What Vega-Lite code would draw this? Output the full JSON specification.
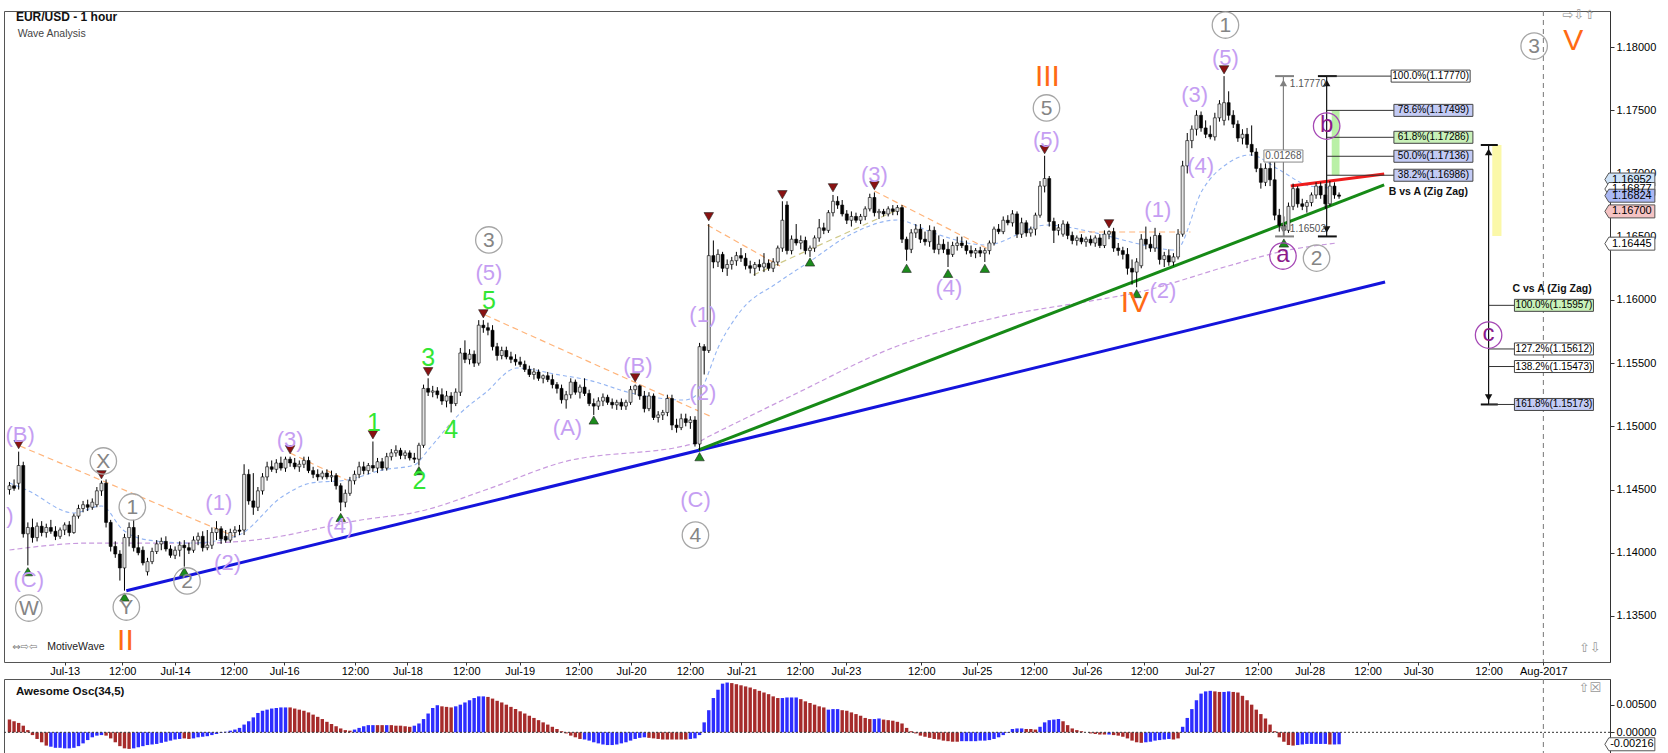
{
"$schema":"https://vega.github.io/schema/vega-lite/v6.json",
"padding":{"left":3,"top":8,"right":2,"bottom":0},
"background":"white",
"spacing":1,
"config":{"view":{"stroke":"#555","strokeWidth":1},"text":{"font":"Liberation Sans"},"axis":{"labelFont":"Liberation Sans"}},
"datasets":{
"bars":[
{"i":-12,"o":1.1450,"h":1.1456,"l":1.1446,"c":1.1453,"a":0.0023,"d":"d"},
{"i":-11,"o":1.1453,"h":1.1458,"l":1.1449,"c":1.1451,"a":0.0020,"d":"d"},
{"i":-10,"o":1.1455,"h":1.1480,"l":1.1450,"c":1.1469,"a":0.0017,"d":"d"},
{"i":-9,"o":1.1469,"h":1.1472,"l":1.1412,"c":1.1415,"a":0.0012,"d":"d"},
{"i":-8,"o":1.1415,"h":1.1424,"l":1.1390,"c":1.1420,"a":0.0004,"d":"d"},
{"i":-7,"o":1.1420,"h":1.1427,"l":1.1408,"c":1.1412,"a":-0.0005,"d":"d"},
{"i":-6,"o":1.1412,"h":1.1424,"l":1.1409,"c":1.1421,"a":-0.0012,"d":"d"},
{"i":-5,"o":1.1421,"h":1.1425,"l":1.1413,"c":1.1416,"a":-0.0018,"d":"d"},
{"i":-4,"o":1.1416,"h":1.1423,"l":1.1412,"c":1.1420,"a":-0.0024,"d":"d"},
{"i":-3,"o":1.1420,"h":1.1426,"l":1.1415,"c":1.1417,"a":-0.0026,"d":"u"},
{"i":-2,"o":1.1417,"h":1.1421,"l":1.1410,"c":1.1413,"a":-0.0028,"d":"u"},
{"i":-1,"o":1.1413,"h":1.1420,"l":1.1411,"c":1.1418,"a":-0.0028,"d":"u"},
{"i":0,"o":1.1418,"h":1.1424,"l":1.1414,"c":1.1422,"a":-0.0029,"d":"u"},
{"i":1,"o":1.1422,"h":1.1425,"l":1.1413,"c":1.1416,"a":-0.0029,"d":"u"},
{"i":2,"o":1.1416,"h":1.1431,"l":1.1415,"c":1.1429,"a":-0.0028,"d":"u"},
{"i":3,"o":1.1429,"h":1.1438,"l":1.1427,"c":1.1435,"a":-0.0025,"d":"u"},
{"i":4,"o":1.1435,"h":1.1441,"l":1.1432,"c":1.1438,"a":-0.0020,"d":"u"},
{"i":5,"o":1.1438,"h":1.1442,"l":1.1433,"c":1.1436,"a":-0.0014,"d":"u"},
{"i":6,"o":1.1436,"h":1.1443,"l":1.1434,"c":1.1440,"a":-0.0009,"d":"u"},
{"i":7,"o":1.1438,"h":1.1452,"l":1.1436,"c":1.1449,"a":-0.0006,"d":"u"},
{"i":8,"o":1.1449,"h":1.1457,"l":1.1445,"c":1.1455,"a":-0.0005,"d":"u"},
{"i":9,"o":1.1455,"h":1.1458,"l":1.1420,"c":1.1424,"a":-0.0006,"d":"d"},
{"i":10,"o":1.1424,"h":1.1426,"l":1.1401,"c":1.1405,"a":-0.0011,"d":"d"},
{"i":11,"o":1.1405,"h":1.1409,"l":1.1396,"c":1.1399,"a":-0.0018,"d":"d"},
{"i":12,"o":1.1399,"h":1.1402,"l":1.1378,"c":1.1388,"a":-0.0025,"d":"d"},
{"i":13,"o":1.1388,"h":1.1415,"l":1.1370,"c":1.1412,"a":-0.0029,"d":"d"},
{"i":14,"o":1.1412,"h":1.1424,"l":1.1405,"c":1.1420,"a":-0.0030,"d":"d"},
{"i":15,"o":1.1420,"h":1.1426,"l":1.1401,"c":1.1404,"a":-0.0029,"d":"u"},
{"i":16,"o":1.1404,"h":1.1414,"l":1.1398,"c":1.1400,"a":-0.0027,"d":"u"},
{"i":17,"o":1.1402,"h":1.1405,"l":1.1390,"c":1.1392,"a":-0.0025,"d":"u"},
{"i":18,"o":1.1385,"h":1.1396,"l":1.1382,"c":1.1393,"a":-0.0023,"d":"u"},
{"i":19,"o":1.1393,"h":1.1404,"l":1.1391,"c":1.1401,"a":-0.0022,"d":"u"},
{"i":20,"o":1.1401,"h":1.1410,"l":1.1399,"c":1.1407,"a":-0.0021,"d":"u"},
{"i":21,"o":1.1407,"h":1.1412,"l":1.1402,"c":1.1409,"a":-0.0019,"d":"u"},
{"i":22,"o":1.1409,"h":1.1413,"l":1.1401,"c":1.1403,"a":-0.0017,"d":"u"},
{"i":23,"o":1.1403,"h":1.1406,"l":1.1396,"c":1.1398,"a":-0.0015,"d":"u"},
{"i":24,"o":1.1398,"h":1.1405,"l":1.1395,"c":1.1402,"a":-0.0013,"d":"u"},
{"i":25,"o":1.1402,"h":1.1409,"l":1.1397,"c":1.1406,"a":-0.0012,"d":"u"},
{"i":26,"o":1.1406,"h":1.1410,"l":1.1389,"c":1.1404,"a":-0.0011,"d":"d"},
{"i":27,"o":1.1404,"h":1.1408,"l":1.1399,"c":1.1402,"a":-0.0012,"d":"d"},
{"i":28,"o":1.1402,"h":1.1413,"l":1.1400,"c":1.1410,"a":-0.0011,"d":"u"},
{"i":29,"o":1.1410,"h":1.1416,"l":1.1406,"c":1.1413,"a":-0.0009,"d":"u"},
{"i":30,"o":1.1413,"h":1.1417,"l":1.1401,"c":1.1404,"a":-0.0008,"d":"u"},
{"i":31,"o":1.1404,"h":1.1418,"l":1.1402,"c":1.1406,"a":-0.0007,"d":"u"},
{"i":32,"o":1.1406,"h":1.1420,"l":1.1403,"c":1.1416,"a":-0.0005,"d":"u"},
{"i":33,"o":1.1416,"h":1.1425,"l":1.1410,"c":1.1419,"a":-0.0003,"d":"u"},
{"i":34,"o":1.1419,"h":1.1421,"l":1.1407,"c":1.1411,"a":-0.0001,"d":"u"},
{"i":35,"o":1.1413,"h":1.1418,"l":1.1408,"c":1.1410,"a":0.0001,"d":"u"},
{"i":36,"o":1.1410,"h":1.1419,"l":1.1408,"c":1.1416,"a":0.0003,"d":"u"},
{"i":37,"o":1.1416,"h":1.1421,"l":1.1412,"c":1.1418,"a":0.0005,"d":"u"},
{"i":38,"o":1.1418,"h":1.1422,"l":1.1414,"c":1.1417,"a":0.0008,"d":"u"},
{"i":39,"o":1.1418,"h":1.1470,"l":1.1414,"c":1.1462,"a":0.0014,"d":"u"},
{"i":40,"o":1.1462,"h":1.1466,"l":1.1438,"c":1.1441,"a":0.0020,"d":"u"},
{"i":41,"o":1.1441,"h":1.1463,"l":1.1430,"c":1.1436,"a":0.0027,"d":"u"},
{"i":42,"o":1.1436,"h":1.1452,"l":1.1433,"c":1.1449,"a":0.0035,"d":"u"},
{"i":43,"o":1.1449,"h":1.1463,"l":1.1446,"c":1.1460,"a":0.0039,"d":"u"},
{"i":44,"o":1.1460,"h":1.1472,"l":1.1457,"c":1.1468,"a":0.0041,"d":"u"},
{"i":45,"o":1.1468,"h":1.1473,"l":1.1464,"c":1.1466,"a":0.0043,"d":"u"},
{"i":46,"o":1.1466,"h":1.1474,"l":1.1463,"c":1.1471,"a":0.0044,"d":"u"},
{"i":47,"o":1.1471,"h":1.1476,"l":1.1465,"c":1.1467,"a":0.0045,"d":"u"},
{"i":48,"o":1.1467,"h":1.1476,"l":1.1464,"c":1.1474,"a":0.0045,"d":"u"},
{"i":49,"o":1.1474,"h":1.1476,"l":1.1468,"c":1.1471,"a":0.0045,"d":"d"},
{"i":50,"o":1.1471,"h":1.1475,"l":1.1466,"c":1.1468,"a":0.0043,"d":"d"},
{"i":51,"o":1.1468,"h":1.1473,"l":1.1464,"c":1.1470,"a":0.0041,"d":"d"},
{"i":52,"o":1.1470,"h":1.1476,"l":1.1467,"c":1.1473,"a":0.0039,"d":"d"},
{"i":53,"o":1.1473,"h":1.1476,"l":1.1463,"c":1.1465,"a":0.0036,"d":"d"},
{"i":54,"o":1.1465,"h":1.1468,"l":1.1459,"c":1.1462,"a":0.0032,"d":"d"},
{"i":55,"o":1.1462,"h":1.1466,"l":1.1457,"c":1.1460,"a":0.0028,"d":"d"},
{"i":56,"o":1.1460,"h":1.1465,"l":1.1458,"c":1.1463,"a":0.0024,"d":"d"},
{"i":57,"o":1.1463,"h":1.1466,"l":1.1458,"c":1.1460,"a":0.0019,"d":"d"},
{"i":58,"o":1.1460,"h":1.1465,"l":1.1456,"c":1.1461,"a":0.0015,"d":"d"},
{"i":59,"o":1.1461,"h":1.1463,"l":1.1450,"c":1.1453,"a":0.0011,"d":"d"},
{"i":60,"o":1.1453,"h":1.1455,"l":1.1433,"c":1.1440,"a":0.0007,"d":"d"},
{"i":61,"o":1.1440,"h":1.1450,"l":1.1436,"c":1.1447,"a":0.0004,"d":"d"},
{"i":62,"o":1.1447,"h":1.1460,"l":1.1445,"c":1.1457,"a":0.0003,"d":"d"},
{"i":63,"o":1.1457,"h":1.1465,"l":1.1454,"c":1.1462,"a":0.0005,"d":"u"},
{"i":64,"o":1.1462,"h":1.1472,"l":1.1459,"c":1.1468,"a":0.0008,"d":"u"},
{"i":65,"o":1.1468,"h":1.1472,"l":1.1462,"c":1.1465,"a":0.0011,"d":"u"},
{"i":66,"o":1.1465,"h":1.1471,"l":1.1462,"c":1.1469,"a":0.0013,"d":"u"},
{"i":67,"o":1.1469,"h":1.1488,"l":1.1464,"c":1.1467,"a":0.0013,"d":"u"},
{"i":68,"o":1.1467,"h":1.1475,"l":1.1463,"c":1.1472,"a":0.0013,"d":"d"},
{"i":69,"o":1.1472,"h":1.1475,"l":1.1465,"c":1.1467,"a":0.0013,"d":"d"},
{"i":70,"o":1.1467,"h":1.1479,"l":1.1465,"c":1.1476,"a":0.0013,"d":"u"},
{"i":71,"o":1.1476,"h":1.1482,"l":1.1473,"c":1.1479,"a":0.0013,"d":"d"},
{"i":72,"o":1.1479,"h":1.1485,"l":1.1476,"c":1.1481,"a":0.0012,"d":"d"},
{"i":73,"o":1.1481,"h":1.1483,"l":1.1474,"c":1.1477,"a":0.0012,"d":"d"},
{"i":74,"o":1.1477,"h":1.1481,"l":1.1474,"c":1.1479,"a":0.0011,"d":"d"},
{"i":75,"o":1.1479,"h":1.1481,"l":1.1473,"c":1.1475,"a":0.0010,"d":"d"},
{"i":76,"o":1.1475,"h":1.1479,"l":1.1471,"c":1.1474,"a":0.0012,"d":"u"},
{"i":77,"o":1.1474,"h":1.1487,"l":1.1469,"c":1.1485,"a":0.0016,"d":"u"},
{"i":78,"o":1.1485,"h":1.1533,"l":1.1483,"c":1.1530,"a":0.0024,"d":"u"},
{"i":79,"o":1.1530,"h":1.1538,"l":1.1524,"c":1.1527,"a":0.0034,"d":"u"},
{"i":80,"o":1.1527,"h":1.1532,"l":1.1523,"c":1.1528,"a":0.0044,"d":"u"},
{"i":81,"o":1.1528,"h":1.1531,"l":1.1522,"c":1.1525,"a":0.0049,"d":"u"},
{"i":82,"o":1.1525,"h":1.1530,"l":1.1517,"c":1.1520,"a":0.0047,"d":"d"},
{"i":83,"o":1.1520,"h":1.1528,"l":1.1515,"c":1.1524,"a":0.0046,"d":"d"},
{"i":84,"o":1.1524,"h":1.1527,"l":1.1511,"c":1.1518,"a":0.0045,"d":"d"},
{"i":85,"o":1.1518,"h":1.1530,"l":1.1516,"c":1.1527,"a":0.0047,"d":"u"},
{"i":86,"o":1.1527,"h":1.1562,"l":1.1524,"c":1.1558,"a":0.0050,"d":"u"},
{"i":87,"o":1.1558,"h":1.1568,"l":1.1550,"c":1.1553,"a":0.0054,"d":"u"},
{"i":88,"o":1.1553,"h":1.1561,"l":1.1549,"c":1.1557,"a":0.0058,"d":"u"},
{"i":89,"o":1.1557,"h":1.1560,"l":1.1547,"c":1.1550,"a":0.0062,"d":"u"},
{"i":90,"o":1.1550,"h":1.1584,"l":1.1548,"c":1.1580,"a":0.0065,"d":"u"},
{"i":91,"o":1.1580,"h":1.1584,"l":1.1574,"c":1.1578,"a":0.0065,"d":"u"},
{"i":92,"o":1.1578,"h":1.1582,"l":1.1572,"c":1.1576,"a":0.0064,"d":"d"},
{"i":93,"o":1.1576,"h":1.1580,"l":1.1560,"c":1.1563,"a":0.0061,"d":"d"},
{"i":94,"o":1.1563,"h":1.1566,"l":1.1552,"c":1.1556,"a":0.0057,"d":"d"},
{"i":95,"o":1.1556,"h":1.1563,"l":1.1553,"c":1.1560,"a":0.0054,"d":"d"},
{"i":96,"o":1.1560,"h":1.1563,"l":1.1553,"c":1.1555,"a":0.0050,"d":"d"},
{"i":97,"o":1.1555,"h":1.1559,"l":1.1550,"c":1.1553,"a":0.0046,"d":"d"},
{"i":98,"o":1.1553,"h":1.1557,"l":1.1548,"c":1.1551,"a":0.0042,"d":"d"},
{"i":99,"o":1.1551,"h":1.1555,"l":1.1547,"c":1.1549,"a":0.0038,"d":"d"},
{"i":100,"o":1.1549,"h":1.1552,"l":1.1543,"c":1.1545,"a":0.0034,"d":"d"},
{"i":101,"o":1.1545,"h":1.1548,"l":1.1539,"c":1.1541,"a":0.0030,"d":"d"},
{"i":102,"o":1.1541,"h":1.1546,"l":1.1537,"c":1.1543,"a":0.0026,"d":"d"},
{"i":103,"o":1.1543,"h":1.1545,"l":1.1536,"c":1.1538,"a":0.0022,"d":"d"},
{"i":104,"o":1.1538,"h":1.1541,"l":1.1534,"c":1.1540,"a":0.0018,"d":"d"},
{"i":105,"o":1.1540,"h":1.1543,"l":1.1535,"c":1.1537,"a":0.0014,"d":"d"},
{"i":106,"o":1.1537,"h":1.1541,"l":1.1530,"c":1.1533,"a":0.0010,"d":"d"},
{"i":107,"o":1.1533,"h":1.1535,"l":1.1526,"c":1.1530,"a":0.0006,"d":"d"},
{"i":108,"o":1.1530,"h":1.1533,"l":1.1518,"c":1.1521,"a":0.0002,"d":"d"},
{"i":109,"o":1.1521,"h":1.1528,"l":1.1514,"c":1.1525,"a":-0.0002,"d":"d"},
{"i":110,"o":1.1525,"h":1.1538,"l":1.1522,"c":1.1535,"a":-0.0006,"d":"d"},
{"i":111,"o":1.1535,"h":1.1537,"l":1.1525,"c":1.1527,"a":-0.0009,"d":"d"},
{"i":112,"o":1.1527,"h":1.1533,"l":1.1522,"c":1.1531,"a":-0.0012,"d":"d"},
{"i":113,"o":1.1531,"h":1.1538,"l":1.1524,"c":1.1526,"a":-0.0013,"d":"u"},
{"i":114,"o":1.1526,"h":1.1529,"l":1.1516,"c":1.1518,"a":-0.0015,"d":"u"},
{"i":115,"o":1.1518,"h":1.1522,"l":1.1509,"c":1.1516,"a":-0.0018,"d":"u"},
{"i":116,"o":1.1516,"h":1.1523,"l":1.1513,"c":1.1520,"a":-0.0020,"d":"u"},
{"i":117,"o":1.1520,"h":1.1526,"l":1.1516,"c":1.1523,"a":-0.0022,"d":"u"},
{"i":118,"o":1.1523,"h":1.1525,"l":1.1517,"c":1.1519,"a":-0.0023,"d":"u"},
{"i":119,"o":1.1519,"h":1.1522,"l":1.1514,"c":1.1517,"a":-0.0023,"d":"u"},
{"i":120,"o":1.1517,"h":1.1521,"l":1.1513,"c":1.1519,"a":-0.0022,"d":"u"},
{"i":121,"o":1.1519,"h":1.1522,"l":1.1513,"c":1.1516,"a":-0.0020,"d":"u"},
{"i":122,"o":1.1516,"h":1.1521,"l":1.1513,"c":1.1519,"a":-0.0018,"d":"u"},
{"i":123,"o":1.1519,"h":1.1532,"l":1.1517,"c":1.1529,"a":-0.0015,"d":"u"},
{"i":124,"o":1.1529,"h":1.1533,"l":1.1525,"c":1.1532,"a":-0.0012,"d":"u"},
{"i":125,"o":1.1532,"h":1.1533,"l":1.1521,"c":1.1524,"a":-0.0010,"d":"u"},
{"i":126,"o":1.1524,"h":1.1528,"l":1.1511,"c":1.1514,"a":-0.0009,"d":"u"},
{"i":127,"o":1.1514,"h":1.1527,"l":1.1512,"c":1.1524,"a":-0.0010,"d":"d"},
{"i":128,"o":1.1524,"h":1.1526,"l":1.1505,"c":1.1507,"a":-0.0011,"d":"d"},
{"i":129,"o":1.1507,"h":1.1512,"l":1.1503,"c":1.1509,"a":-0.0012,"d":"d"},
{"i":130,"o":1.1509,"h":1.1513,"l":1.1505,"c":1.1511,"a":-0.0013,"d":"d"},
{"i":131,"o":1.1511,"h":1.1525,"l":1.1508,"c":1.1522,"a":-0.0013,"d":"d"},
{"i":132,"o":1.1522,"h":1.1525,"l":1.1497,"c":1.1501,"a":-0.0013,"d":"d"},
{"i":133,"o":1.1501,"h":1.1506,"l":1.1495,"c":1.1499,"a":-0.0013,"d":"d"},
{"i":134,"o":1.1499,"h":1.1510,"l":1.1497,"c":1.1506,"a":-0.0013,"d":"d"},
{"i":135,"o":1.1506,"h":1.1510,"l":1.1500,"c":1.1503,"a":-0.0013,"d":"d"},
{"i":136,"o":1.1503,"h":1.1508,"l":1.1498,"c":1.1505,"a":-0.0012,"d":"u"},
{"i":137,"o":1.1505,"h":1.1508,"l":1.1484,"c":1.1486,"a":-0.0011,"d":"u"},
{"i":138,"o":1.1486,"h":1.1566,"l":1.1481,"c":1.1563,"a":-0.0005,"d":"u"},
{"i":139,"o":1.1563,"h":1.1565,"l":1.1541,"c":1.1560,"a":0.0018,"d":"u"},
{"i":140,"o":1.1560,"h":1.1660,"l":1.1558,"c":1.1635,"a":0.0040,"d":"u"},
{"i":141,"o":1.1635,"h":1.1647,"l":1.1625,"c":1.1630,"a":0.0062,"d":"u"},
{"i":142,"o":1.1630,"h":1.1640,"l":1.1626,"c":1.1636,"a":0.0077,"d":"u"},
{"i":143,"o":1.1636,"h":1.1638,"l":1.1622,"c":1.1625,"a":0.0088,"d":"u"},
{"i":144,"o":1.1625,"h":1.1632,"l":1.1619,"c":1.1628,"a":0.0090,"d":"u"},
{"i":145,"o":1.1628,"h":1.1634,"l":1.1624,"c":1.1631,"a":0.0089,"d":"d"},
{"i":146,"o":1.1631,"h":1.1638,"l":1.1627,"c":1.1635,"a":0.0087,"d":"d"},
{"i":147,"o":1.1635,"h":1.1641,"l":1.1630,"c":1.1633,"a":0.0085,"d":"d"},
{"i":148,"o":1.1633,"h":1.1637,"l":1.1624,"c":1.1627,"a":0.0083,"d":"d"},
{"i":149,"o":1.1627,"h":1.1631,"l":1.1621,"c":1.1625,"a":0.0081,"d":"d"},
{"i":150,"o":1.1625,"h":1.1630,"l":1.1619,"c":1.1628,"a":0.0078,"d":"d"},
{"i":151,"o":1.1628,"h":1.1632,"l":1.1623,"c":1.1626,"a":0.0075,"d":"d"},
{"i":152,"o":1.1626,"h":1.1637,"l":1.1622,"c":1.1629,"a":0.0072,"d":"d"},
{"i":153,"o":1.1629,"h":1.1632,"l":1.1623,"c":1.1625,"a":0.0069,"d":"d"},
{"i":154,"o":1.1625,"h":1.1633,"l":1.1622,"c":1.1630,"a":0.0065,"d":"d"},
{"i":155,"o":1.1630,"h":1.1643,"l":1.1627,"c":1.1641,"a":0.0062,"d":"d"},
{"i":156,"o":1.1641,"h":1.1678,"l":1.1638,"c":1.1663,"a":0.0062,"d":"u"},
{"i":157,"o":1.1675,"h":1.1678,"l":1.1636,"c":1.1639,"a":0.0063,"d":"u"},
{"i":158,"o":1.1639,"h":1.1651,"l":1.1636,"c":1.1648,"a":0.0063,"d":"u"},
{"i":159,"o":1.1648,"h":1.1660,"l":1.1643,"c":1.1645,"a":0.0063,"d":"u"},
{"i":160,"o":1.1645,"h":1.1651,"l":1.1640,"c":1.1647,"a":0.0060,"d":"d"},
{"i":161,"o":1.1647,"h":1.1650,"l":1.1636,"c":1.1639,"a":0.0056,"d":"d"},
{"i":162,"o":1.1639,"h":1.1643,"l":1.1634,"c":1.1641,"a":0.0053,"d":"d"},
{"i":163,"o":1.1641,"h":1.1651,"l":1.1638,"c":1.1649,"a":0.0050,"d":"d"},
{"i":164,"o":1.1649,"h":1.1664,"l":1.1646,"c":1.1657,"a":0.0047,"d":"d"},
{"i":165,"o":1.1657,"h":1.1661,"l":1.1652,"c":1.1655,"a":0.0045,"d":"d"},
{"i":166,"o":1.1655,"h":1.1671,"l":1.1653,"c":1.1669,"a":0.0041,"d":"u"},
{"i":167,"o":1.1669,"h":1.1683,"l":1.1666,"c":1.1678,"a":0.0042,"d":"u"},
{"i":168,"o":1.1678,"h":1.1682,"l":1.1672,"c":1.1675,"a":0.0042,"d":"u"},
{"i":169,"o":1.1675,"h":1.1679,"l":1.1666,"c":1.1668,"a":0.0040,"d":"d"},
{"i":170,"o":1.1668,"h":1.1671,"l":1.1660,"c":1.1663,"a":0.0039,"d":"d"},
{"i":171,"o":1.1663,"h":1.1670,"l":1.1658,"c":1.1666,"a":0.0036,"d":"d"},
{"i":172,"o":1.1666,"h":1.1669,"l":1.1661,"c":1.1663,"a":0.0033,"d":"d"},
{"i":173,"o":1.1663,"h":1.1668,"l":1.1660,"c":1.1666,"a":0.0030,"d":"d"},
{"i":174,"o":1.1666,"h":1.1674,"l":1.1663,"c":1.1672,"a":0.0026,"d":"d"},
{"i":175,"o":1.1672,"h":1.1684,"l":1.1670,"c":1.1681,"a":0.0024,"d":"d"},
{"i":176,"o":1.1681,"h":1.1685,"l":1.1666,"c":1.1669,"a":0.0024,"d":"u"},
{"i":177,"o":1.1669,"h":1.1672,"l":1.1664,"c":1.1670,"a":0.0025,"d":"u"},
{"i":178,"o":1.1670,"h":1.1672,"l":1.1666,"c":1.1668,"a":0.0023,"d":"d"},
{"i":179,"o":1.1668,"h":1.1674,"l":1.1666,"c":1.1672,"a":0.0022,"d":"d"},
{"i":180,"o":1.1672,"h":1.1675,"l":1.1667,"c":1.1670,"a":0.0021,"d":"d"},
{"i":181,"o":1.1670,"h":1.1675,"l":1.1667,"c":1.1673,"a":0.0019,"d":"d"},
{"i":182,"o":1.1673,"h":1.1675,"l":1.1645,"c":1.1648,"a":0.0016,"d":"d"},
{"i":183,"o":1.1648,"h":1.1650,"l":1.1631,"c":1.1640,"a":0.0008,"d":"d"},
{"i":184,"o":1.1640,"h":1.1656,"l":1.1637,"c":1.1653,"a":0.0002,"d":"d"},
{"i":185,"o":1.1653,"h":1.1660,"l":1.1649,"c":1.1656,"a":-0.0002,"d":"d"},
{"i":186,"o":1.1656,"h":1.1660,"l":1.1645,"c":1.1648,"a":-0.0006,"d":"d"},
{"i":187,"o":1.1648,"h":1.1654,"l":1.1643,"c":1.1646,"a":-0.0008,"d":"d"},
{"i":188,"o":1.1646,"h":1.1659,"l":1.1642,"c":1.1655,"a":-0.0010,"d":"d"},
{"i":189,"o":1.1655,"h":1.1658,"l":1.1637,"c":1.1640,"a":-0.0012,"d":"d"},
{"i":190,"o":1.1640,"h":1.1651,"l":1.1636,"c":1.1644,"a":-0.0013,"d":"d"},
{"i":191,"o":1.1644,"h":1.1648,"l":1.1637,"c":1.1640,"a":-0.0015,"d":"d"},
{"i":192,"o":1.1640,"h":1.1646,"l":1.1626,"c":1.1636,"a":-0.0016,"d":"d"},
{"i":193,"o":1.1636,"h":1.1646,"l":1.1634,"c":1.1643,"a":-0.0017,"d":"d"},
{"i":194,"o":1.1643,"h":1.1650,"l":1.1639,"c":1.1645,"a":-0.0017,"d":"d"},
{"i":195,"o":1.1645,"h":1.1650,"l":1.1641,"c":1.1643,"a":-0.0016,"d":"u"},
{"i":196,"o":1.1643,"h":1.1647,"l":1.1636,"c":1.1639,"a":-0.0016,"d":"u"},
{"i":197,"o":1.1639,"h":1.1643,"l":1.1634,"c":1.1637,"a":-0.0016,"d":"u"},
{"i":198,"o":1.1637,"h":1.1641,"l":1.1633,"c":1.1639,"a":-0.0016,"d":"u"},
{"i":199,"o":1.1639,"h":1.1642,"l":1.1634,"c":1.1637,"a":-0.0015,"d":"u"},
{"i":200,"o":1.1637,"h":1.1641,"l":1.1630,"c":1.1639,"a":-0.0015,"d":"u"},
{"i":201,"o":1.1639,"h":1.1647,"l":1.1636,"c":1.1645,"a":-0.0014,"d":"u"},
{"i":202,"o":1.1645,"h":1.1658,"l":1.1643,"c":1.1656,"a":-0.0012,"d":"u"},
{"i":203,"o":1.1656,"h":1.1660,"l":1.1652,"c":1.1654,"a":-0.0009,"d":"u"},
{"i":204,"o":1.1654,"h":1.1666,"l":1.1652,"c":1.1663,"a":-0.0005,"d":"u"},
{"i":205,"o":1.1663,"h":1.1667,"l":1.1659,"c":1.1661,"a":-0.0001,"d":"u"},
{"i":206,"o":1.1661,"h":1.1671,"l":1.1658,"c":1.1668,"a":0.0006,"d":"u"},
{"i":207,"o":1.1668,"h":1.1670,"l":1.1649,"c":1.1652,"a":0.0007,"d":"u"},
{"i":208,"o":1.1652,"h":1.1665,"l":1.1649,"c":1.1661,"a":0.0007,"d":"u"},
{"i":209,"o":1.1661,"h":1.1663,"l":1.1650,"c":1.1653,"a":0.0006,"d":"d"},
{"i":210,"o":1.1653,"h":1.1658,"l":1.1650,"c":1.1656,"a":0.0006,"d":"d"},
{"i":211,"o":1.1656,"h":1.1669,"l":1.1651,"c":1.1667,"a":0.0005,"d":"d"},
{"i":212,"o":1.1667,"h":1.1694,"l":1.1665,"c":1.1690,"a":0.0010,"d":"u"},
{"i":213,"o":1.1690,"h":1.1714,"l":1.1685,"c":1.1696,"a":0.0018,"d":"u"},
{"i":214,"o":1.1696,"h":1.1698,"l":1.1658,"c":1.1662,"a":0.0022,"d":"u"},
{"i":215,"o":1.1662,"h":1.1665,"l":1.1645,"c":1.1655,"a":0.0023,"d":"u"},
{"i":216,"o":1.1655,"h":1.1660,"l":1.1651,"c":1.1657,"a":0.0024,"d":"u"},
{"i":217,"o":1.1652,"h":1.1663,"l":1.1650,"c":1.1660,"a":0.0020,"d":"d"},
{"i":218,"o":1.1660,"h":1.1662,"l":1.1648,"c":1.1651,"a":0.0013,"d":"d"},
{"i":219,"o":1.1651,"h":1.1654,"l":1.1644,"c":1.1647,"a":0.0007,"d":"d"},
{"i":220,"o":1.1647,"h":1.1651,"l":1.1643,"c":1.1649,"a":0.0004,"d":"d"},
{"i":221,"o":1.1649,"h":1.1652,"l":1.1644,"c":1.1646,"a":0.0002,"d":"d"},
{"i":222,"o":1.1646,"h":1.1650,"l":1.1642,"c":1.1648,"a":0.0000,"d":"d"},
{"i":223,"o":1.1648,"h":1.1651,"l":1.1643,"c":1.1645,"a":-0.0002,"d":"d"},
{"i":224,"o":1.1645,"h":1.1651,"l":1.1642,"c":1.1649,"a":-0.0003,"d":"d"},
{"i":225,"o":1.1649,"h":1.1652,"l":1.1641,"c":1.1643,"a":-0.0004,"d":"d"},
{"i":226,"o":1.1643,"h":1.1655,"l":1.1641,"c":1.1652,"a":-0.0004,"d":"d"},
{"i":227,"o":1.1652,"h":1.1655,"l":1.1648,"c":1.1654,"a":-0.0004,"d":"u"},
{"i":228,"o":1.1654,"h":1.1657,"l":1.1638,"c":1.1641,"a":-0.0005,"d":"d"},
{"i":229,"o":1.1641,"h":1.1645,"l":1.1635,"c":1.1639,"a":-0.0006,"d":"d"},
{"i":230,"o":1.1639,"h":1.1642,"l":1.1632,"c":1.1636,"a":-0.0008,"d":"d"},
{"i":231,"o":1.1636,"h":1.1641,"l":1.1620,"c":1.1625,"a":-0.0011,"d":"d"},
{"i":232,"o":1.1625,"h":1.1632,"l":1.1612,"c":1.1622,"a":-0.0015,"d":"d"},
{"i":233,"o":1.1622,"h":1.1633,"l":1.1610,"c":1.1630,"a":-0.0018,"d":"d"},
{"i":234,"o":1.1627,"h":1.1652,"l":1.1625,"c":1.1648,"a":-0.0019,"d":"d"},
{"i":235,"o":1.1648,"h":1.1658,"l":1.1640,"c":1.1644,"a":-0.0018,"d":"u"},
{"i":236,"o":1.1644,"h":1.1650,"l":1.1638,"c":1.1641,"a":-0.0017,"d":"u"},
{"i":237,"o":1.1641,"h":1.1657,"l":1.1638,"c":1.1651,"a":-0.0015,"d":"u"},
{"i":238,"o":1.1651,"h":1.1653,"l":1.1628,"c":1.1632,"a":-0.0014,"d":"u"},
{"i":239,"o":1.1632,"h":1.1638,"l":1.1626,"c":1.1635,"a":-0.0013,"d":"u"},
{"i":240,"o":1.1635,"h":1.1640,"l":1.1627,"c":1.1630,"a":-0.0012,"d":"u"},
{"i":241,"o":1.1630,"h":1.1637,"l":1.1627,"c":1.1634,"a":-0.0013,"d":"d"},
{"i":242,"o":1.1634,"h":1.1656,"l":1.1632,"c":1.1652,"a":-0.0011,"d":"d"},
{"i":243,"o":1.1652,"h":1.1710,"l":1.1650,"c":1.1706,"a":0.0010,"d":"u"},
{"i":244,"o":1.1706,"h":1.1732,"l":1.1700,"c":1.1726,"a":0.0026,"d":"u"},
{"i":245,"o":1.1726,"h":1.1738,"l":1.1720,"c":1.1735,"a":0.0042,"d":"u"},
{"i":246,"o":1.1735,"h":1.1750,"l":1.1730,"c":1.1746,"a":0.0058,"d":"u"},
{"i":247,"o":1.1746,"h":1.1749,"l":1.1733,"c":1.1736,"a":0.0070,"d":"u"},
{"i":248,"o":1.1736,"h":1.1742,"l":1.1728,"c":1.1731,"a":0.0074,"d":"u"},
{"i":249,"o":1.1731,"h":1.1738,"l":1.1727,"c":1.1729,"a":0.0075,"d":"u"},
{"i":250,"o":1.1729,"h":1.1748,"l":1.1726,"c":1.1744,"a":0.0074,"d":"d"},
{"i":251,"o":1.1744,"h":1.1758,"l":1.1741,"c":1.1755,"a":0.0073,"d":"d"},
{"i":252,"o":1.1742,"h":1.1777,"l":1.1738,"c":1.1756,"a":0.0073,"d":"u"},
{"i":253,"o":1.1756,"h":1.1765,"l":1.1742,"c":1.1746,"a":0.0074,"d":"u"},
{"i":254,"o":1.1746,"h":1.1750,"l":1.1736,"c":1.1739,"a":0.0073,"d":"d"},
{"i":255,"o":1.1739,"h":1.1742,"l":1.1725,"c":1.1728,"a":0.0072,"d":"d"},
{"i":256,"o":1.1728,"h":1.1735,"l":1.1723,"c":1.1731,"a":0.0066,"d":"d"},
{"i":257,"o":1.1731,"h":1.1736,"l":1.1720,"c":1.1723,"a":0.0058,"d":"d"},
{"i":258,"o":1.1723,"h":1.1738,"l":1.1714,"c":1.1717,"a":0.0050,"d":"d"},
{"i":259,"o":1.1717,"h":1.1720,"l":1.1701,"c":1.1704,"a":0.0041,"d":"d"},
{"i":260,"o":1.1704,"h":1.1708,"l":1.1688,"c":1.1693,"a":0.0033,"d":"d"},
{"i":261,"o":1.1693,"h":1.1708,"l":1.1690,"c":1.1704,"a":0.0025,"d":"d"},
{"i":262,"o":1.1704,"h":1.1710,"l":1.1690,"c":1.1695,"a":0.0014,"d":"d"},
{"i":263,"o":1.1695,"h":1.1709,"l":1.1663,"c":1.1667,"a":0.0002,"d":"d"},
{"i":264,"o":1.1667,"h":1.1672,"l":1.1654,"c":1.1659,"a":-0.0009,"d":"d"},
{"i":265,"o":1.1659,"h":1.1666,"l":1.1650,"c":1.1655,"a":-0.0017,"d":"d"},
{"i":266,"o":1.1655,"h":1.1677,"l":1.1653,"c":1.1674,"a":-0.0023,"d":"d"},
{"i":267,"o":1.1674,"h":1.1692,"l":1.1671,"c":1.1688,"a":-0.0024,"d":"d"},
{"i":268,"o":1.1688,"h":1.1690,"l":1.1673,"c":1.1676,"a":-0.0023,"d":"u"},
{"i":269,"o":1.1676,"h":1.1680,"l":1.1671,"c":1.1674,"a":-0.0022,"d":"u"},
{"i":270,"o":1.1674,"h":1.1679,"l":1.1669,"c":1.1677,"a":-0.0021,"d":"u"},
{"i":271,"o":1.1677,"h":1.1685,"l":1.1674,"c":1.1683,"a":-0.0021,"d":"u"},
{"i":272,"o":1.1683,"h":1.1693,"l":1.1680,"c":1.1690,"a":-0.0021,"d":"u"},
{"i":273,"o":1.1690,"h":1.1693,"l":1.1680,"c":1.1683,"a":-0.0021,"d":"u"},
{"i":274,"o":1.1683,"h":1.1692,"l":1.1672,"c":1.1676,"a":-0.0021,"d":"u"},
{"i":275,"o":1.1676,"h":1.1694,"l":1.1674,"c":1.1690,"a":-0.0022,"d":"d"},
{"i":276,"o":1.1690,"h":1.1693,"l":1.1680,"c":1.1683,"a":-0.0022,"d":"u"},
{"i":277,"o":1.1683,"h":1.1685,"l":1.1680,"c":1.1682,"a":-0.00216,"d":"u"}
],
"ma1":[{"i":-12,"p":1.14552},{"i":-8.2,"p":1.14496},{"i":1.9,"p":1.14315},{"i":8,"p":1.1437},{"i":12.7,"p":1.1418},{"i":18.1,"p":1.14101},{"i":27.4,"p":1.14077},{"i":37.4,"p":1.14133},{"i":47.5,"p":1.14449},{"i":53.6,"p":1.14552},{"i":61.3,"p":1.14575},{"i":69.1,"p":1.14655},{"i":76,"p":1.14694},{"i":79,"p":1.14813},{"i":86,"p":1.15105},{"i":91.4,"p":1.15264},{"i":98.3,"p":1.15461},{"i":107.6,"p":1.15406},{"i":113.8,"p":1.15366},{"i":123.1,"p":1.15264},{"i":134.8,"p":1.15208},{"i":137.8,"p":1.15264},{"i":142.5,"p":1.15659},{"i":147.1,"p":1.1592},{"i":154.9,"p":1.16134},{"i":162.4,"p":1.16315},{"i":170.2,"p":1.16505},{"i":181,"p":1.16632},{"i":188.8,"p":1.16529},{"i":200.2,"p":1.16434},{"i":213.4,"p":1.16592},{"i":224.2,"p":1.16529},{"i":232.6,"p":1.1645},{"i":241.5,"p":1.16394},{"i":247.3,"p":1.16869},{"i":252.9,"p":1.17083},{"i":257.7,"p":1.17146},{"i":264.1,"p":1.17027},{"i":270.6,"p":1.16901},{"i":275.6,"p":1.16885}],
"ma2":[{"i":-12,"p":1.14022},{"i":5.8,"p":1.14077},{"i":30.5,"p":1.14077},{"i":41.3,"p":1.14101},{"i":64.4,"p":1.14259},{"i":77.5,"p":1.1433},{"i":91.4,"p":1.14496},{"i":107.6,"p":1.1471},{"i":137.1,"p":1.14868},{"i":140.2,"p":1.14924},{"i":157.9,"p":1.1524},{"i":181,"p":1.15635},{"i":204.1,"p":1.15873},{"i":224.2,"p":1.15999},{"i":232.6,"p":1.16054},{"i":252.9,"p":1.16268},{"i":265,"p":1.16387},{"i":276.5,"p":1.1645}],
"tr":[{"g":"s1","i":-9.7,"p":1.14844},{"g":"s1","i":36.7,"p":1.14133},{"g":"s2","i":49,"p":1.14789},{"g":"s2","i":61.3,"p":1.14575},{"g":"s3","i":91.4,"p":1.1588},{"g":"s3","i":140.2,"p":1.15082},{"g":"s4","i":139.7,"p":1.16592},{"g":"s4","i":155.5,"p":1.16268},{"g":"s5","i":149.7,"p":1.16197},{"g":"s5","i":181.9,"p":1.16727},{"g":"s6","i":176,"p":1.16861},{"g":"s6","i":201.1,"p":1.16395},{"g":"s7","i":220.5,"p":1.16537},{"g":"s7","i":244.7,"p":1.16537}],
"tl":[{"g":"b","i":13.4,"p":1.13699},{"g":"b","i":287,"p":1.16142},{"g":"g","i":137.8,"p":1.14814},{"g":"g","i":286.8,"p":1.16909},{"g":"r","i":266.5,"p":1.16901},{"g":"r","i":286.8,"p":1.16996}],
"tri":[{"i":-10,"p":1.14855,"t":"d"},{"i":8,"p":1.14617,"t":"d"},{"i":49,"p":1.14815,"t":"d"},{"i":67,"p":1.14933,"t":"d"},{"i":79,"p":1.15432,"t":"d"},{"i":91,"p":1.1589,"t":"d"},{"i":124,"p":1.15384,"t":"d"},{"i":140,"p":1.16658,"t":"d"},{"i":156,"p":1.16832,"t":"d"},{"i":167,"p":1.16887,"t":"d"},{"i":176,"p":1.16903,"t":"d"},{"i":213,"p":1.17188,"t":"d"},{"i":227,"p":1.16602,"t":"d"},{"i":252,"p":1.1782,"t":"d"},
{"i":-8,"p":1.1385,"t":"u"},{"i":13,"p":1.1365,"t":"u"},{"i":26,"p":1.1385,"t":"u"},{"i":60,"p":1.1428,"t":"u"},{"i":77,"p":1.1465,"t":"u"},{"i":115,"p":1.1505,"t":"u"},{"i":138,"p":1.1476,"t":"u"},{"i":162,"p":1.163,"t":"u"},{"i":183,"p":1.1625,"t":"u"},{"i":192,"p":1.1621,"t":"u"},{"i":200,"p":1.1625,"t":"u"},{"i":233,"p":1.1605,"t":"u"},{"i":265,"p":1.1645,"t":"u"}],
"lb":[
{"i":-9.7,"p":1.14931,"t":"(B)","k":"l"},{"i":-11.9,"p":1.14291,"t":")","k":"l"},{"i":-7.8,"p":1.13784,"t":"(C)","k":"l"},{"i":33.5,"p":1.14393,"t":"(1)","k":"l"},{"i":35.4,"p":1.13919,"t":"(2)","k":"l"},{"i":49,"p":1.14892,"t":"(3)","k":"l"},{"i":59.8,"p":1.14212,"t":"(4)","k":"l"},{"i":92.2,"p":1.16213,"t":"(5)","k":"l"},{"i":109.3,"p":1.14987,"t":"(A)","k":"l"},{"i":124.6,"p":1.15477,"t":"(B)","k":"l"},{"i":138.7,"p":1.1588,"t":"(1)","k":"l"},{"i":138.7,"p":1.15263,"t":"(2)","k":"l"},{"i":137.1,"p":1.14417,"t":"(C)","k":"l"},{"i":176,"p":1.16988,"t":"(3)","k":"l"},{"i":192.2,"p":1.16094,"t":"(4)","k":"l"},{"i":213.4,"p":1.17264,"t":"(5)","k":"l"},{"i":237.6,"p":1.16711,"t":"(1)","k":"l"},{"i":238.7,"p":1.1607,"t":"(2)","k":"l"},{"i":245.6,"p":1.1762,"t":"(3)","k":"l"},{"i":246.9,"p":1.17059,"t":"(4)","k":"l"},{"i":252.3,"p":1.17913,"t":"(5)","k":"l"},
{"i":-7.8,"p":1.13563,"t":"W","k":"g"},{"i":8.4,"p":1.14726,"t":"X","k":"g"},{"i":14.7,"p":1.14362,"t":"1","k":"g"},{"i":13.4,"p":1.13571,"t":"Y","k":"g"},{"i":26.6,"p":1.13777,"t":"2","k":"g"},{"i":92.2,"p":1.16474,"t":"3","k":"g"},{"i":137.1,"p":1.1414,"t":"4","k":"g"},{"i":213.4,"p":1.17518,"t":"5","k":"g"},{"i":252.3,"p":1.18174,"t":"1","k":"g"},{"i":272.1,"p":1.16331,"t":"2","k":"g"},{"i":319.4,"p":1.18008,"t":"3","k":"g"},
{"i":264.8,"p":1.16347,"t":"a","k":"p"},{"i":274.3,"p":1.17375,"t":"b","k":"p"},{"i":309.5,"p":1.15722,"t":"c","k":"p"},
{"i":67.2,"p":1.15026,"t":"1","k":"n"},{"i":77.1,"p":1.14567,"t":"2","k":"n"},{"i":79,"p":1.1554,"t":"3","k":"n"},{"i":84,"p":1.14971,"t":"4","k":"n"},{"i":92.2,"p":1.15991,"t":"5","k":"n"},
{"i":13.2,"p":1.13302,"t":"II","k":"o"},{"i":213.6,"p":1.17763,"t":"III","k":"o"},{"i":232.6,"p":1.15975,"t":"IV","k":"o"},{"i":327.9,"p":1.18047,"t":"V","k":"o"}],
"fl":[
{"i1":274.3,"i2":288.3,"ib":296.9,"p":1.1777,"t":"100.0%(1.17770)","k":"w"},
{"i1":274.3,"i2":289.5,"ib":297.5,"p":1.17499,"t":"78.6%(1.17499)","k":"b"},
{"i1":274.3,"i2":289.5,"ib":297.5,"p":1.17286,"t":"61.8%(1.17286)","k":"g"},
{"i1":274.3,"i2":289.5,"ib":297.5,"p":1.17136,"t":"50.0%(1.17136)","k":"b"},
{"i1":274.3,"i2":289.5,"ib":297.5,"p":1.16986,"t":"38.2%(1.16986)","k":"b"},
{"i1":309.5,"i2":315.1,"ib":323.7,"p":1.15957,"t":"100.0%(1.15957)","k":"g"},
{"i1":309.5,"i2":315.1,"ib":323.7,"p":1.15612,"t":"127.2%(1.15612)","k":"w"},
{"i1":309.5,"i2":315.1,"ib":323.7,"p":1.15473,"t":"138.2%(1.15473)","k":"w"},
{"i1":309.5,"i2":315.1,"ib":323.7,"p":1.15173,"t":"161.8%(1.15173)","k":"b"}],
"fv":[{"i":264.9,"p1":1.1777,"p2":1.16502,"k":"gr"},{"i":274.3,"p1":1.1777,"p2":1.16502,"k":"bk"},{"i":309.5,"p1":1.17225,"p2":1.15173,"k":"bk"}],
"fc":[{"i1":263.1,"i2":267.2,"p":1.1777,"k":"gr"},{"i1":263.1,"i2":267.2,"p":1.16502,"k":"gr"},{"i1":272.4,"i2":276.5,"p":1.1777,"k":"bk"},{"i1":272.4,"i2":276.5,"p":1.16502,"k":"bk"},{"i1":307.8,"i2":311.5,"p":1.17225,"k":"bk"},{"i1":307.8,"i2":311.5,"p":1.15173,"k":"bk"}],
"fa":[{"i":264.9,"p":1.17715,"s":"up","k":"gr"},{"i":264.9,"p":1.16557,"s":"dn","k":"gr"},{"i":274.3,"p":1.17715,"s":"up","k":"bk"},{"i":274.3,"p":1.16557,"s":"dn","k":"bk"},{"i":309.5,"p":1.1717,"s":"up","k":"bk"},{"i":309.5,"p":1.15228,"s":"dn","k":"bk"}],
"fb":[{"i1":275.4,"i2":277.1,"p1":1.17499,"p2":1.16986,"k":"g"},{"i1":310.3,"i2":312.3,"p1":1.17225,"p2":1.16505,"k":"y"}],
"tags":[{"i":340.2,"p":1.16952,"t":"1.16952","k":"lb"},{"i":340.2,"p":1.16877,"t":"1.16877","k":"w"},{"i":340.2,"p":1.16824,"t":"1.16824","k":"b"},{"i":340.2,"p":1.167,"t":"1.16700","k":"pk"},{"i":340.2,"p":1.16445,"t":"1.16445","k":"w"}]
},
"vconcat":[
{
"width":1606,"height":651,
"resolve":{"scale":{"color":"independent","fill":"independent","stroke":"independent","shape":"independent"}},
"layer":[
{"data":{"name":"ma2"},"mark":{"type":"line","color":"#c89ade","strokeWidth":1.2,"strokeDash":[5,3],"interpolate":"monotone"},
 "encoding":{
  "x":{"field":"i","type":"quantitative","scale":{"domain":[-12.1,334.8],"nice":false,"zero":false},
   "axis":{"title":null,"values":[0,12.5,24,36.7,47.7,63.1,74.5,87.3,98.9,111.7,123.1,135.9,147.1,159.8,169.8,186.2,198.3,210.6,222.2,234.6,246.7,259.4,270.6,283.2,294.2,309.5,321.4],
   "labelExpr":"['Jul-13','12:00','Jul-14','12:00','Jul-16','12:00','Jul-18','12:00','Jul-19','12:00','Jul-20','12:00','Jul-21','12:00','Jul-23','12:00','Jul-25','12:00','Jul-26','12:00','Jul-27','12:00','Jul-28','12:00','Jul-30','12:00','Aug-2017'][indexof([0,12.5,24,36.7,47.7,63.1,74.5,87.3,98.9,111.7,123.1,135.9,147.1,159.8,169.8,186.2,198.3,210.6,222.2,234.6,246.7,259.4,270.6,283.2,294.2,309.5,321.4],datum.value)]",
   "grid":false,"domain":false,"tickSize":3,"tickColor":"#333","labelFontSize":11,"labelColor":"#000","labelPadding":0,"labelOverlap":false,"labelFlush":false}},
  "y":{"field":"p","type":"quantitative","scale":{"domain":[1.13136,1.18285],"nice":false,"zero":false},
   "axis":{"title":null,"orient":"right","values":[1.135,1.14,1.145,1.15,1.155,1.16,1.165,1.17,1.175,1.18],"format":".5f","grid":false,"domain":true,"domainColor":"#333","tickSize":4,"tickColor":"#333","labelFontSize":11,"labelColor":"#000","labelPadding":2}}}},
{"data":{"name":"ma1"},"mark":{"type":"line","color":"#93b4f2","strokeWidth":1.1,"strokeDash":[4,3],"interpolate":"monotone"},
 "encoding":{"x":{"field":"i","type":"quantitative"},"y":{"field":"p","type":"quantitative"}}},
{"data":{"name":"tr"},"transform":[{"filter":"datum.g!='s5'"}],"mark":{"type":"line","color":"#ffb47a","strokeWidth":1.2,"strokeDash":[6,4]},
 "encoding":{"x":{"field":"i","type":"quantitative"},"y":{"field":"p","type":"quantitative"},"detail":{"field":"g"}}},
{"data":{"name":"tr"},"transform":[{"filter":"datum.g=='s5'"}],"mark":{"type":"line","color":"#cfc98a","strokeWidth":1.2,"strokeDash":[6,4]},
 "encoding":{"x":{"field":"i","type":"quantitative"},"y":{"field":"p","type":"quantitative"},"detail":{"field":"g"}}},
{"data":{"name":"tl"},"mark":{"type":"line","strokeWidth":3},
 "encoding":{"x":{"field":"i","type":"quantitative"},"y":{"field":"p","type":"quantitative"},"detail":{"field":"g"},
  "color":{"field":"g","type":"nominal","scale":{"domain":["b","g","r"],"range":["#1414dc","#168a16","#ee1c1c"]},"legend":null}}},
{"data":{"name":"bars"},"mark":{"type":"rule","color":"#000","strokeWidth":1},
 "encoding":{"x":{"field":"i","type":"quantitative"},"y":{"field":"l","type":"quantitative"},"y2":{"field":"h"}}},
{"data":{"name":"bars"},"mark":{"type":"bar","width":3,"stroke":"#000","strokeWidth":0.6},
 "encoding":{"x":{"field":"i","type":"quantitative"},"y":{"field":"o","type":"quantitative"},"y2":{"field":"c"},
  "fill":{"condition":{"test":"datum.c>=datum.o","value":"#e4e4e4"},"value":"#000000"}}},
{"data":{"name":"tri"},"mark":{"type":"point","filled":true,"size":90,"stroke":"#222","strokeWidth":0.6,"opacity":1},
 "encoding":{"x":{"field":"i","type":"quantitative"},"y":{"field":"p","type":"quantitative"},
  "shape":{"field":"t","type":"nominal","scale":{"domain":["u","d"],"range":["triangle-up","triangle-down"]},"legend":null},
  "fill":{"field":"t","type":"nominal","scale":{"domain":["u","d"],"range":["#1c8c1c","#8a1212"]},"legend":null}}},
{"data":{"values":[{}]},"mark":{"type":"rule","color":"#777","strokeDash":[5,4],"strokeWidth":1},"encoding":{"x":{"datum":321.4}}},
{"data":{"name":"fb"},"mark":{"type":"rect"},
 "encoding":{"x":{"field":"i1","type":"quantitative"},"x2":{"field":"i2"},"y":{"field":"p1","type":"quantitative"},"y2":{"field":"p2"},
  "fill":{"field":"k","type":"nominal","scale":{"domain":["g","y"],"range":["#b9f0a6","#fbf8a8"]},"legend":null}}},
{"data":{"name":"fv"},"mark":{"type":"rule","strokeWidth":1.2},
 "encoding":{"x":{"field":"i","type":"quantitative"},"y":{"field":"p1","type":"quantitative"},"y2":{"field":"p2"},
  "stroke":{"field":"k","type":"nominal","scale":{"domain":["gr","bk"],"range":["#808080","#111111"]},"legend":null}}},
{"data":{"name":"fc"},"mark":{"type":"rule","strokeWidth":2},
 "encoding":{"x":{"field":"i1","type":"quantitative"},"x2":{"field":"i2"},"y":{"field":"p","type":"quantitative"},
  "stroke":{"field":"k","type":"nominal","scale":{"domain":["gr","bk"],"range":["#808080","#111111"]},"legend":null}}},
{"data":{"name":"fl"},"mark":{"type":"rule","strokeWidth":1,"color":"#333"},
 "encoding":{"x":{"field":"i1","type":"quantitative"},"x2":{"field":"i2"},"y":{"field":"p","type":"quantitative"}}},
{"data":{"name":"fa"},"mark":{"type":"point","filled":true,"size":55,"opacity":1},
 "encoding":{"x":{"field":"i","type":"quantitative"},"y":{"field":"p","type":"quantitative"},
  "shape":{"field":"s","type":"nominal","scale":{"domain":["up","dn"],"range":["triangle-up","triangle-down"]},"legend":null},
  "fill":{"field":"k","type":"nominal","scale":{"domain":["gr","bk"],"range":["#808080","#111111"]},"legend":null}}},
{"data":{"name":"fl"},"mark":{"type":"point","shape":"M-1,-0.152H1V0.152H-1Z","size":6241,"filled":true,"stroke":"#444","strokeWidth":1,"opacity":1},
 "encoding":{"x":{"field":"ib","type":"quantitative"},"y":{"field":"p","type":"quantitative"},
  "fill":{"field":"k","type":"nominal","scale":{"domain":["w","b","g"],"range":["#ffffff","#c3cbf5","#c9f1b9"]},"legend":null}}},
{"data":{"name":"fl"},"mark":{"type":"text","fontSize":10,"color":"#000","align":"center","baseline":"middle"},
 "encoding":{"x":{"field":"ib","type":"quantitative"},"y":{"field":"p","type":"quantitative"},"text":{"field":"t"}}},
{"data":{"values":[{"i":264.9,"p":1.17138,"t":"0.01268"}]},"mark":{"type":"point","shape":"M-1,-0.31H1V0.31H-1Z","size":1521,"filled":true,"fill":"#ffffff","stroke":"#888","strokeWidth":1,"opacity":1},
 "encoding":{"x":{"field":"i","type":"quantitative"},"y":{"field":"p","type":"quantitative"}}},
{"data":{"values":[{"i":264.9,"p":1.17138,"t":"0.01268"}]},"mark":{"type":"text","fontSize":10,"color":"#555","align":"center","baseline":"middle"},
 "encoding":{"x":{"field":"i","type":"quantitative"},"y":{"field":"p","type":"quantitative"},"text":{"field":"t"}}},
{"data":{"values":[{"i":266.3,"p":1.17707,"t":"1.17770"},{"i":266.3,"p":1.1656,"t":"1.16502"}]},"mark":{"type":"text","fontSize":10,"color":"#555","align":"left","baseline":"middle"},
 "encoding":{"x":{"field":"i","type":"quantitative"},"y":{"field":"p","type":"quantitative"},"text":{"field":"t"}}},
{"data":{"values":[{"i":296.4,"p":1.16853,"t":"B vs A (Zig Zag)"},{"i":323.3,"p":1.16086,"t":"C vs A (Zig Zag)"}]},"mark":{"type":"text","fontSize":10.5,"fontWeight":"bold","color":"#111","align":"center","baseline":"middle"},
 "encoding":{"x":{"field":"i","type":"quantitative"},"y":{"field":"p","type":"quantitative"},"text":{"field":"t"}}},
{"data":{"name":"lb"},"transform":[{"filter":"datum.k=='g'"}],"mark":{"type":"point","shape":"circle","size":700,"filled":false,"stroke":"#a6a6a6","strokeWidth":1.3,"opacity":1},
 "encoding":{"x":{"field":"i","type":"quantitative"},"y":{"field":"p","type":"quantitative"}}},
{"data":{"name":"lb"},"transform":[{"filter":"datum.k=='p'"}],"mark":{"type":"point","shape":"circle","size":700,"filled":false,"stroke":"#a548b5","strokeWidth":1.3,"opacity":1},
 "encoding":{"x":{"field":"i","type":"quantitative"},"y":{"field":"p","type":"quantitative"}}},
{"data":{"name":"lb"},"transform":[{"filter":"datum.k=='l'"}],"mark":{"type":"text","fontSize":22,"color":"#c59ef2","align":"center","baseline":"middle"},
 "encoding":{"x":{"field":"i","type":"quantitative"},"y":{"field":"p","type":"quantitative"},"text":{"field":"t"}}},
{"data":{"name":"lb"},"transform":[{"filter":"datum.k=='g'"}],"mark":{"type":"text","fontSize":21,"color":"#858585","align":"center","baseline":"middle","dy":1},
 "encoding":{"x":{"field":"i","type":"quantitative"},"y":{"field":"p","type":"quantitative"},"text":{"field":"t"}}},
{"data":{"name":"lb"},"transform":[{"filter":"datum.k=='p'"}],"mark":{"type":"text","fontSize":24,"color":"#8b1a8b","align":"center","baseline":"middle","dy":-1},
 "encoding":{"x":{"field":"i","type":"quantitative"},"y":{"field":"p","type":"quantitative"},"text":{"field":"t"}}},
{"data":{"name":"lb"},"transform":[{"filter":"datum.k=='n'"}],"mark":{"type":"text","fontSize":25,"color":"#33e633","align":"center","baseline":"middle"},
 "encoding":{"x":{"field":"i","type":"quantitative"},"y":{"field":"p","type":"quantitative"},"text":{"field":"t"}}},
{"data":{"name":"lb"},"transform":[{"filter":"datum.k=='o'"}],"mark":{"type":"text","fontSize":30,"color":"#ff6a14","align":"center","baseline":"middle"},
 "encoding":{"x":{"field":"i","type":"quantitative"},"y":{"field":"p","type":"quantitative"},"text":{"field":"t"}}},
{"data":{"name":"tags"},"mark":{"type":"point","shape":"M-1,0L-0.84,-0.26H1V0.26H-0.84Z","size":2500,"filled":true,"stroke":"#555","strokeWidth":1,"opacity":1},
 "encoding":{"x":{"field":"i","type":"quantitative"},"y":{"field":"p","type":"quantitative"},
  "fill":{"field":"k","type":"nominal","scale":{"domain":["lb","w","b","pk"],"range":["#cfe3f8","#ffffff","#aab8f4","#f5c3c3"]},"legend":null}}},
{"data":{"name":"tags"},"mark":{"type":"text","fontSize":11,"color":"#000","align":"center","baseline":"middle","dx":2},
 "encoding":{"x":{"field":"i","type":"quantitative"},"y":{"field":"p","type":"quantitative"},"text":{"field":"t"}}},
{"data":{"values":[{"i":-10.6,"p":1.18237,"t":"EUR/USD - 1 hour"}]},"mark":{"type":"text","fontSize":12,"fontWeight":"bold","color":"#111","align":"left","baseline":"middle"},
 "encoding":{"x":{"field":"i","type":"quantitative"},"y":{"field":"p","type":"quantitative"},"text":{"field":"t"}}},
{"data":{"values":[{"i":-10.2,"p":1.18103,"t":"Wave Analysis"}]},"mark":{"type":"text","fontSize":10.5,"color":"#444","align":"left","baseline":"middle"},
 "encoding":{"x":{"field":"i","type":"quantitative"},"y":{"field":"p","type":"quantitative"},"text":{"field":"t"}}},
{"data":{"values":[{"i":-11.4,"p":1.13255,"t":"⇔⇨⇦"}]},"mark":{"type":"text","fontSize":10,"color":"#777","align":"left","baseline":"middle","font":"DejaVu Sans"},
 "encoding":{"x":{"field":"i","type":"quantitative"},"y":{"field":"p","type":"quantitative"},"text":{"field":"t"}}},
{"data":{"values":[{"i":-3.8,"p":1.13255,"t":"MotiveWave"}]},"mark":{"type":"text","fontSize":10.5,"color":"#222","align":"left","baseline":"middle"},
 "encoding":{"x":{"field":"i","type":"quantitative"},"y":{"field":"p","type":"quantitative"},"text":{"field":"t"}}},
{"data":{"values":[{"i":329.1,"p":1.18253,"t":"⇨⇩⇧"},{"i":331.5,"p":1.13247,"t":"⇧⇩"}]},"mark":{"type":"text","fontSize":13,"color":"#999","align":"center","baseline":"middle","font":"DejaVu Sans"},
 "encoding":{"x":{"field":"i","type":"quantitative"},"y":{"field":"p","type":"quantitative"},"text":{"field":"t"}}}
]
},
{
"width":1606,"height":76,
"resolve":{"scale":{"fill":"independent"}},
"layer":[
{"data":{"name":"bars"},"mark":{"type":"bar","width":3.4},
 "encoding":{
  "x":{"field":"i","type":"quantitative","scale":{"domain":[-12.1,334.8],"nice":false,"zero":false},"axis":null},
  "y":{"field":"a","type":"quantitative","scale":{"domain":[-0.0041,0.00964],"nice":false,"zero":false},
   "axis":{"title":null,"orient":"right","values":[0,0.005],"format":".5f","grid":false,"domain":true,"domainColor":"#333","tickSize":4,"tickColor":"#333","labelFontSize":11,"labelColor":"#000","labelPadding":2}},
  "y2":{"datum":0},
  "fill":{"field":"d","type":"nominal","scale":{"domain":["u","d"],"range":["#2d2dff","#a62b2b"]},"legend":null}}},
{"data":{"values":[{}]},"mark":{"type":"rule","color":"#333","strokeDash":[2,2],"strokeWidth":1},"encoding":{"y":{"datum":0}}},
{"data":{"values":[{}]},"mark":{"type":"rule","color":"#777","strokeDash":[5,4],"strokeWidth":1},"encoding":{"x":{"datum":321.4}}},
{"data":{"values":[{"i":-10.6,"v":0.00732,"t":"Awesome Osc(34,5)"}]},"mark":{"type":"text","fontSize":11.5,"fontWeight":"bold","color":"#111","align":"left","baseline":"middle"},
 "encoding":{"x":{"field":"i","type":"quantitative"},"y":{"field":"v","type":"quantitative"},"text":{"field":"t"}}},
{"data":{"values":[{"i":331.5,"v":0.00803,"t":"⇧☒"}]},"mark":{"type":"text","fontSize":13,"color":"#999","align":"center","baseline":"middle","font":"DejaVu Sans"},
 "encoding":{"x":{"field":"i","type":"quantitative"},"y":{"field":"v","type":"quantitative"},"text":{"field":"t"}}},
{"data":{"values":[{"i":340.2,"v":-0.00216,"t":"-0.00216"}]},"mark":{"type":"point","shape":"M-1,0L-0.84,-0.26H1V0.26H-0.84Z","size":2500,"filled":true,"fill":"#ffffff","stroke":"#555","strokeWidth":1,"opacity":1},
 "encoding":{"x":{"field":"i","type":"quantitative"},"y":{"field":"v","type":"quantitative"}}},
{"data":{"values":[{"i":340.2,"v":-0.00216,"t":"-0.00216"}]},"mark":{"type":"text","fontSize":11,"color":"#000","align":"center","baseline":"middle","dx":2},
 "encoding":{"x":{"field":"i","type":"quantitative"},"y":{"field":"v","type":"quantitative"},"text":{"field":"t"}}}
]
}
]
}
